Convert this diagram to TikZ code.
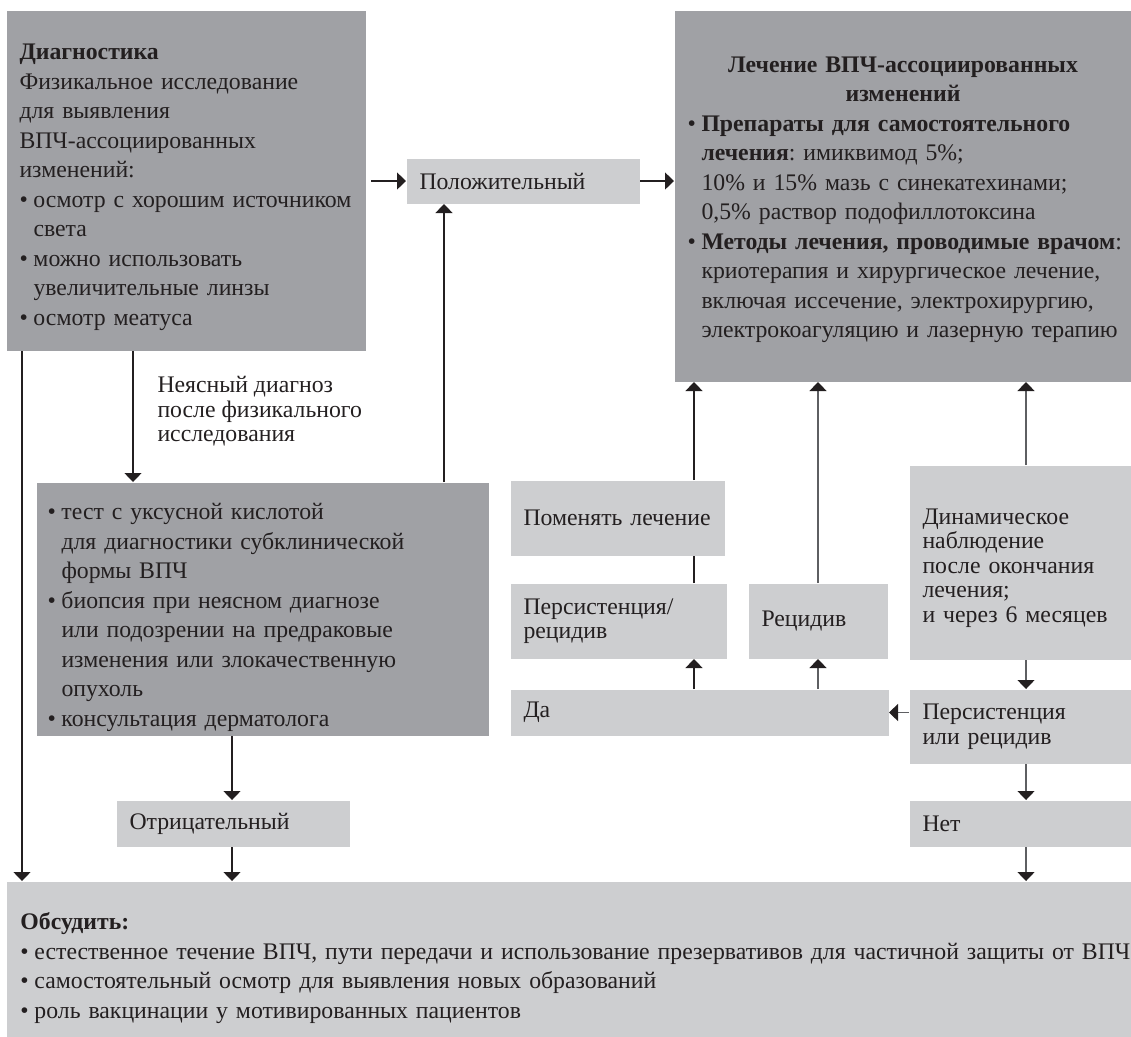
\documentclass[tikz,border=0pt]{standalone}
\usepackage{fontspec}
\setmainfont{Liberation Serif}
\usepackage{tikz}
\usetikzlibrary{positioning, arrows.meta, calc}

\definecolor{boxdark}{HTML}{A0A1A5}
\definecolor{boxlight}{HTML}{CDCED0}
\definecolor{ink}{HTML}{231F20}
\definecolor{inkgray}{HTML}{5E5F62}

\newlength{\bulw}
\setlength{\bulw}{5.6pt}
\newcommand{\bul}{\makebox[\bulw][l]{•}}
\newcommand{\cnt}{\hspace*{\bulw}}
\newcommand{\topgap}[1]{\rule{0pt}{#1}}
\frenchspacing

\begin{document}
\begin{tikzpicture}[
    x=0.4pt, y=-0.4pt,
    every node/.style={text=ink, font={\fontsize{9.5}{9.8}\selectfont}},
    panel/.style 2 args={rectangle, anchor=north west, inner xsep=5.2pt, inner ysep=0pt,
        text width=#1, minimum height=#2, align=left},
    dark/.style={fill=boxdark},
    light/.style={fill=boxlight},
    loose/.style={font={\fontsize{9.5}{11.8}\selectfont}},
    arr/.style={draw=ink, line width=0.5pt, -{Triangle[width=6.8pt,length=3.6pt]}},
    arrg/.style={draw=inkgray, line width=0.5pt, -{Triangle[width=6.8pt,length=3.6pt,color=ink]}}
]
\useasboundingbox (0,0) rectangle (1131,1036);

% Boxes
\node[panel={133.2pt}{136pt}, dark, loose] (diag) at (6,10)
    {\topgap{11.6pt}\textbf{Диагностика}\\
     Физикальное исследование\\
     для выявления\\
     ВПЧ-ассоциированных\\
     изменений:\\
     \mbox{\bul осмотр с хорошим источником}\\
     \cnt света\\
     \bul можно использовать\\
     \cnt увеличительные линзы\\
     \bul осмотр меатуса};
\node[panel={82.8pt}{18pt}, light] (pos) at (406,158) {Положительный};
\node[panel={172.4pt}{148.4pt}, dark, loose] (treat) at (674,10)
    {\makebox[\linewidth]{\topgap{9.2pt}\bfseries Лечение ВПЧ-ассоциированных}\\
     \makebox[\linewidth]{\bfseries изменений}\\
     \mbox{\bul\textbf{Препараты для самостоятельного}}\\
     \cnt\textbf{лечения}: имиквимод 5\%;\\
     \mbox{\cnt 10\% и 15\% мазь с синекатехинами;}\\
     \cnt 0,5\% раствор подофиллотоксина\\
     \mbox{\bul\textbf{Методы лечения, проводимые врачом}:}\\
     \mbox{\cnt криотерапия и хирургическое лечение,}\\
     \mbox{\cnt включая иссечение, электрохирургию,}\\
     \mbox{\cnt электрокоагуляцию и лазерную терапию}};
\node[anchor=west, inner sep=0pt, align=left] (unclear) at (157,411.5)
    {Неясный диагноз\\после физикального\\исследования};
\node[panel={172pt}{101.2pt}, inner xsep=4.4pt, dark, loose] (tests) at (36,482)
    {\topgap{13.2pt}\bul тест с уксусной кислотой\\
     \cnt для диагностики субклинической\\
     \cnt формы ВПЧ\\
     \bul биопсия при неясном диагнозе\\
     \cnt или подозрении на предраковые\\
     \cnt изменения или злокачественную\\
     \cnt опухоль\\
     \bul консультация дерматолога};
\node[panel={75.2pt}{30pt}, light] (change) at (510,480) {Поменять лечение};
\node[panel={76pt}{30pt}, light] (persist) at (510,583) {Персистенция/\\рецидив};
\node[panel={45.2pt}{30pt}, light] (relapse) at (748,583) {Рецидив};
\node[panel={78.4pt}{77.6pt}, light] (dyn) at (909,465)
    {\topgap{10.8pt}Динамическое\\наблюдение\\после окончания\\лечения;\\и через 6 месяцев};
\node[panel={140.8pt}{18.4pt}, light] (yes) at (510,689) {Да};
\node[panel={78.4pt}{29.6pt}, light] (persist2) at (909,689) {Персистенция\\или рецидив};
\node[panel={82.8pt}{18.4pt}, light] (neg) at (116,800) {Отрицательный};
\node[panel={78.4pt}{18.4pt}, light] (no) at (909,800) {Нет};
\node[panel={438.8pt}{62pt}, inner xsep=5.6pt, light, loose] (discuss) at (6,881)
    {\topgap{14pt}\textbf{Обсудить:}\\
     \mbox{\bul естественное течение ВПЧ, пути передачи и использование презервативов для частичной защиты от ВПЧ}\\
     \bul самостоятельный осмотр для выявления новых образований\\
     \bul роль вакцинации у мотивированных пациентов};

% Columns of the vertical connectors
\coordinate (xa) at (22,0);
\coordinate (xb) at (133,0);
\coordinate (xc) at (232,0);
\coordinate (xd) at (444,0);
\coordinate (xe) at (694,0);
\coordinate (xf) at (818,0);
\coordinate (xg) at (1026,0);

% Diagnosis branches
\draw[arr] ($(diag.east |- pos.west)+(2pt,0)$) -- (pos.west);
\draw[arr] (pos.east) -- (treat.west |- pos.east);
\draw[arr] (diag.south -| xb) -- (tests.north -| xb);
\draw[arr] (tests.north -| xd) -- (pos.south -| xd);
\draw[arr] (diag.south -| xa) -- (discuss.north -| xa);
\draw[arr] (tests.south -| xc) -- (neg.north -| xc);
\draw[arr] (neg.south -| xc) -- (discuss.north -| xc);

% Follow-up after treatment
\draw[arr] (change.north -| xe) -- (treat.south -| xe);
\draw[draw=ink, line width=0.5pt] (persist.north -| xe) -- (change.south -| xe);
\draw[arr] (yes.north -| xe) -- (persist.south -| xe);
\draw[arrg] (relapse.north -| xf) -- (treat.south -| xf);
\draw[arrg] (yes.north -| xf) -- (relapse.south -| xf);
\draw[arrg] (dyn.north -| xg) -- (treat.south -| xg);
\draw[arrg] (dyn.south -| xg) -- (persist2.north -| xg);
\draw[arrg] (persist2.west |- yes.east) -- (yes.east);
\draw[arrg] (persist2.south -| xg) -- (no.north -| xg);
\draw[arrg] (no.south -| xg) -- (discuss.north -| xg);

\end{tikzpicture}
\end{document}
